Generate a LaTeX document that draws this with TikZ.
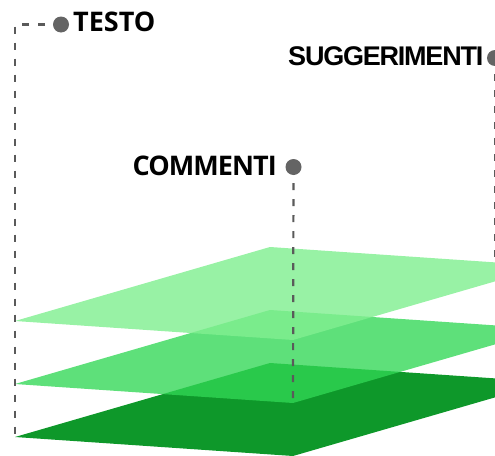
\documentclass[tikz,border=0pt]{standalone}
\usepackage{fontspec}
\newfontfamily\labfont{Open Sans}
\newfontfamily\commfont[LetterSpace=-3.5]{Open Sans}
\newfontfamily\sugfont[LetterSpace=-4.5]{Liberation Sans}
\definecolor{planeB}{RGB}{14,152,42}
\definecolor{planeM}{RGB}{49,215,85}
\definecolor{planeT}{RGB}{128,239,144}
\definecolor{leadgray}{RGB}{90,90,90}
\definecolor{dotgray}{RGB}{100,100,100}
\begin{document}
\begin{tikzpicture}[x=1pt,y=-1pt,
  lead/.style={draw=leadgray, line width=2.2pt, dash pattern=on 7pt off 9pt},
  pin/.style={circle, fill=dotgray, inner sep=0pt, minimum size=16pt},
  lab/.style={font=\labfont\bfseries\fontsize{27}{27}\selectfont, inner sep=0pt, text=black},
  clab/.style={font=\commfont\bfseries\fontsize{27}{27}\selectfont, inner sep=0pt, text=black},
  slab/.style={font=\sugfont\bfseries\fontsize{27}{27}\selectfont, inner sep=0pt, text=black}]
\useasboundingbox (0,0) rectangle (495,455);
\clip (0,0) rectangle (495,455);
% plane corners
\coordinate (Bl) at (15,437); \coordinate (Bt) at (270,363);
\coordinate (Br) at (548,382); \coordinate (Bb) at (293,456);
\coordinate (Ml) at (15,384); \coordinate (Mt) at (270,310);
\coordinate (Mr) at (548,329); \coordinate (Mb) at (293,403);
\coordinate (Tl) at (15,321); \coordinate (Tt) at (270,247);
\coordinate (Tr) at (548,266); \coordinate (Tb) at (293,340);
\coordinate (suggend) at (495,263);
% planes
\fill[planeB] (Bl) -- (Bt) -- (Br) -- (Bb) -- cycle;
\fill[planeM, fill opacity=0.78] (Ml) -- (Mt) -- (Mr) -- (Mb) -- cycle;
\fill[planeT, fill opacity=0.81] (Tl) -- (Tt) -- (Tr) -- (Tb) -- cycle;
% pin positions
\coordinate (testodot) at (61,24.5);
\coordinate (commdot) at (293.5,167);
\coordinate (suggdot) at (495,58);
% leader lines
\draw[lead] (testodot) -| (Bl);
\draw[lead] (commdot) -- (Mb);
\draw[lead] (suggdot) -- (suggend);
% pins
\node[pin] (testopin) at (testodot) {};
\node[pin] (commpin) at (commdot) {};
\node[pin] (suggpin) at (suggdot) {};
% labels
\node[lab, anchor=west] (testo) at (73,21.5) {TESTO};
\node[clab, anchor=east] (comm) at (277,165.5) {COMMENTI};
\node[slab, anchor=west] (sugg) at (288,56) {SUGGERIMENTI};
\end{tikzpicture}
\end{document}
